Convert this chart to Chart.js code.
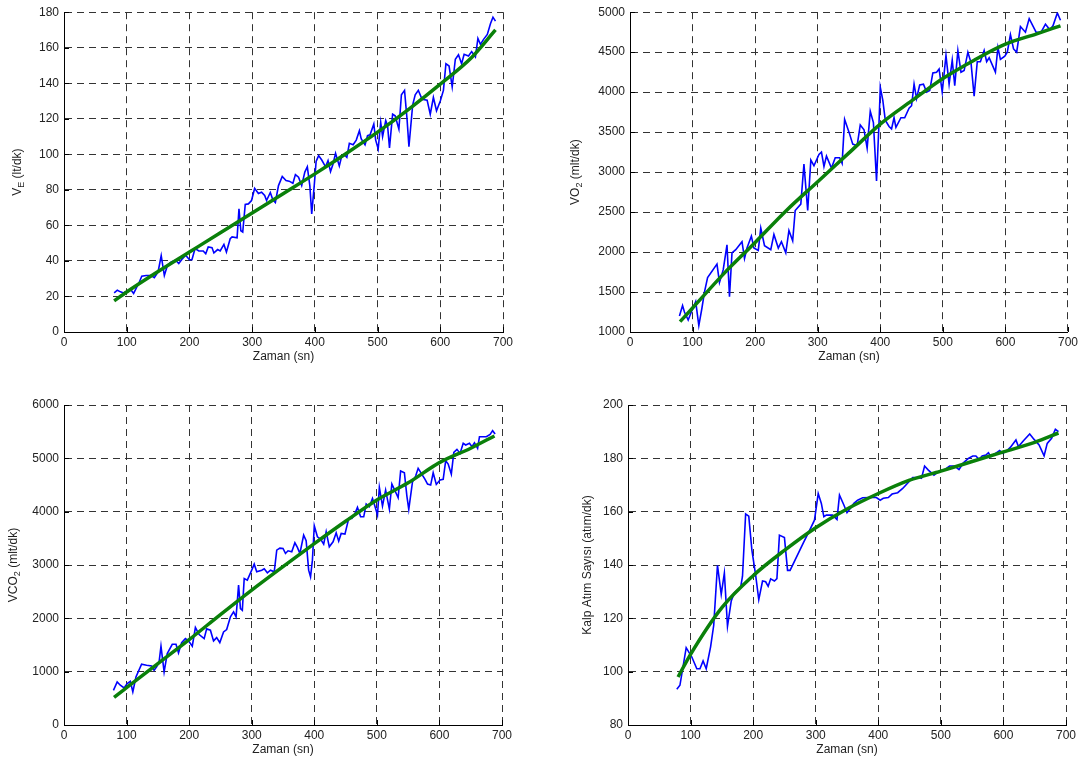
<!DOCTYPE html>
<html>
<head>
<meta charset="utf-8">
<script src="https://cdn.jsdelivr.net/npm/chart.js@4/dist/chart.umd.min.js"></script>
<style>
  body { margin: 0; background: #fff; width: 1081px; height: 763px; position: relative; overflow: hidden; }
  canvas { position: absolute; }
</style>
</head>
<body>
<canvas id="ve"></canvas>
<canvas id="vo2"></canvas>
<canvas id="vco2"></canvas>
<canvas id="nabiz"></canvas>
<script>
// --- veriler (grafikten okunan yaklasik degerler) ---
const veZaman = [80,85,90,95,100,106,111,115,120,124,131,139,144,150,155,160,165,171,178,183,189,194,200,204,209,215,222,226,230,236,239,245,249,255,259,265,268,276,279,282,285,289,294,299,304,310,315,320,323,329,333,337,342,348,354,359,365,369,374,379,384,388,392,395,399,402,406,411,417,421,425,429,433,439,443,447,451,455,461,466,471,474,480,484,488,494,497,501,505,508,513,516,519,524,528,534,538,543,547,550,556,560,565,571,579,584,589,594,600,605,609,614,619,624,629,634,638,645,650,656,660,664,669,675,680,684,688];
const veDeger = [22,23.5,22.6,22,23,24,21.7,24.5,28,31.4,31.8,31.8,30.6,33.8,43,31.8,37.6,39.4,40.4,38.5,41.3,43.2,40.7,40.7,47,45.6,45.6,44,47.9,47.5,44.5,46.4,45.6,49.3,45,52.5,53.5,53,69.3,57,56.3,71.8,72.1,74,80.9,78,78.7,76.8,74,78.5,74.4,72.9,82.4,87.5,85.2,84.9,83.7,88.6,87.1,82.4,90,93,82.4,66.5,82.4,96,99.3,96.8,93,96.4,90.3,94.6,100.6,93.5,99.3,99.8,98.3,106.2,105.4,108,113.3,108.6,105.4,110.5,111,117,108,103,118,110,119,116,103.6,122.6,121.7,114.2,133.5,136,119.8,104.3,127.9,133.5,136,131,130.5,122.6,132,124.5,130,136,151,149.7,138,153.5,156,151,156.3,155.3,157.8,154.8,165.2,161.9,164.7,167.5,173.5,177.2,175];

const vo2Zaman = [79,84,87,93,98,105,110,115,119,124,139,143,149,155,159,163,169,179,183,187,194,198,205,209,215,225,230,237,242,249,254,260,264,273,278,284,289,294,302,306,310,314,322,328,335,339,343,350,356,363,368,374,379,384,389,394,398,400,404,408,414,418,422,425,433,439,446,450,454,458,463,469,474,479,484,490,494,499,505,510,515,519,524,529,534,540,545,550,555,560,566,570,574,584,588,592,599,603,608,613,618,624,632,638,649,657,664,671,676,683,688];
const vo2Deger = [1200,1330,1250,1150,1250,1380,1080,1300,1500,1680,1850,1620,1780,2090,1440,1990,2030,2130,1920,2050,2200,2050,2020,2300,2080,2030,2220,2050,2130,1990,2270,2140,2520,2600,3100,2520,3150,3080,3220,3250,3070,3200,3050,3180,3180,3110,3660,3500,3350,3330,3590,3530,3300,3760,3620,2890,3620,4060,3900,3650,3570,3540,3680,3560,3680,3680,3800,3830,4100,3920,4090,4100,4000,4020,4240,4250,4290,4000,4460,4100,4400,4080,4520,4250,4270,4500,4370,3950,4380,4380,4520,4380,4430,4250,4560,4410,4450,4500,4720,4540,4500,4820,4750,4920,4750,4750,4850,4780,4830,4990,4900];

const vco2Zaman = [79,85,90,96,101,106,110,115,124,132,140,144,148,152,155,160,165,173,179,183,188,194,199,205,210,216,224,228,234,239,244,249,255,260,266,271,275,279,282,285,288,293,300,304,308,316,320,325,330,336,340,345,350,354,358,364,369,373,377,383,387,391,394,397,400,405,410,415,419,424,430,435,439,443,449,455,460,464,469,474,479,483,488,493,498,501,504,509,514,520,524,529,534,538,544,548,551,557,562,566,571,577,581,586,590,595,601,606,610,614,619,623,628,633,638,642,648,652,656,661,664,670,675,681,685,689];
const vco2Deger = [650,807,745,695,776,820,620,900,1139,1120,1107,1026,1089,1183,1477,995,1339,1514,1514,1352,1545,1620,1577,1477,1827,1696,1620,1802,1777,1577,1639,1545,1746,1789,2027,2121,2027,2622,2184,2152,2747,2716,2903,3016,2872,2903,2928,2853,2903,2872,3279,3316,3310,3216,3266,3247,3416,3329,3216,3560,3454,2903,2778,3091,3735,3529,3485,3391,3623,3341,3435,3604,3448,3591,3579,3873,3873,3936,4080,3904,3904,4142,4092,4249,4061,3936,4455,4105,4405,4048,4518,4392,4261,4762,4730,4292,4042,4561,4668,4812,4718,4605,4518,4499,4730,4511,4593,4605,4955,4893,4705,5112,5168,5093,5281,5250,5281,5218,5293,5187,5406,5406,5406,5450,5519,5456];

const nabizZaman = [78,83,93,102,110,115,120,125,132,137,143,149,154,159,165,170,176,180,183,188,193,198,204,209,215,220,224,228,234,238,242,250,255,259,281,289,298,304,309,313,317,327,334,338,345,350,356,361,367,375,386,397,403,408,416,422,431,439,449,455,465,469,474,480,489,497,505,514,522,529,536,544,551,556,561,566,572,576,580,588,594,599,605,611,620,624,632,642,649,657,665,670,677,683,688];
const nabizDeger = [93.4,94.9,109,105.5,101.1,101.1,104,101.1,109.3,117.4,139.9,129,137,117,126.5,129.6,130.8,131.6,135.8,159.1,158.3,145.6,136.2,127,134,133.7,132,134.8,134,134.9,151.2,150.3,138,138,148.7,152.4,156.8,166.8,163.1,158.1,158.7,158.7,157.1,166.2,162.5,159.6,161.5,163.1,164.3,165.2,165.3,165.3,164.3,165,165.3,166.6,167.1,168.7,171.2,172.8,172.8,172.5,177.1,175.6,173.7,175.2,175.6,177.1,177.1,175.8,178.3,180,180.9,180.9,179.6,180.9,181.2,182.1,180.6,181.9,182.9,181.9,182.7,184.1,186.9,184.4,186.6,189.1,187.1,185,180.9,185.6,187.5,190.9,190];

// egri uydurma (yesil) degerleri
const fitZaman = [80,100,150,200,250,300,350,400,450,500,550,600,650,688];
const veFit    = [17.5,22.5,34,45,56,67,78,89,100.5,112.5,125.5,139.5,154.5,170];
const vo2Fit   = [1130,1300,1730,2120,2520,2880,3240,3600,3890,4170,4400,4600,4730,4830];
const vco2Fit  = [520,700,1150,1600,2070,2530,2970,3400,3820,4220,4540,4920,5190,5420];
const nabizFit = [98,106.5,124,136,145.5,154,161,166.8,171.8,175.2,178.8,182.4,186,189.5];

const FONT = '"Liberation Sans", Arial, sans-serif';
Chart.defaults.font.family = FONT;
Chart.defaults.font.size = 12;
Chart.defaults.color = '#222';

const eksenPlugin = {
  id: 'eksen',
  afterDraw(chart, args, opts) {
    const ctx = chart.ctx, a = chart.chartArea;
    const xs = chart.scales.x, ys = chart.scales.y;
    ctx.save();
    // iceri bakan tik cizgileri
    ctx.strokeStyle = '#000';
    ctx.lineWidth = 1;
    ctx.beginPath();
    xs.ticks.forEach(t => {
      const p = Math.round(xs.getPixelForValue(t.value)) + 0.5;
      ctx.moveTo(p, a.bottom); ctx.lineTo(p, a.bottom - 5);
    });
    ys.ticks.forEach(t => {
      const p = Math.round(ys.getPixelForValue(t.value)) + 0.5;
      ctx.moveTo(a.left, p); ctx.lineTo(a.left + 5, p);
    });
    ctx.stroke();

    // x basligi
    ctx.fillStyle = '#222';
    ctx.font = '12px ' + FONT;
    ctx.textAlign = 'center';
    ctx.textBaseline = 'middle';
    ctx.fillText(opts.xBaslik, (a.left + a.right) / 2, a.bottom + 25);

    // y basligi (alt indisli)
    ctx.translate(a.left - opts.yOfset, (a.top + a.bottom) / 2);
    ctx.rotate(-Math.PI / 2);
    const fontOf = p => (p.alt ? '9px ' : '12px ') + FONT;
    let toplam = 0;
    opts.yBaslik.forEach(p => { ctx.font = fontOf(p); toplam += ctx.measureText(p.t).width; });
    let x = -toplam / 2;
    ctx.textAlign = 'left';
    opts.yBaslik.forEach(p => {
      ctx.font = fontOf(p);
      ctx.fillText(p.t, x, p.alt ? 4 : 0);
      x += ctx.measureText(p.t).width;
    });
    ctx.restore();
  }
};

function grafik(id, kutu, alan, zaman, deger, fit, yMin, yMax, yAdim, yBaslik, yOfset) {
  const cv = document.getElementById(id);
  cv.width = kutu.w; cv.height = kutu.h;
  cv.style.left = kutu.x + 'px'; cv.style.top = kutu.y + 'px';
  const grid = { color: '#333', lineWidth: 1, drawTicks: false };
  const border = { display: true, color: '#000', width: 1, dash: [7, 5] };
  return new Chart(cv, {
    type: 'line',
    data: {
      datasets: [{
        data: fitZaman.map((x, i) => ({ x, y: fit[i] })),
        borderColor: '#0a800a',
        borderWidth: 3.5,
        pointRadius: 0,
        cubicInterpolationMode: 'monotone',
        fill: false
      }, {
        data: zaman.map((x, i) => ({ x, y: deger[i] })),
        borderColor: '#0000ff',
        borderWidth: 1.6,
        pointRadius: 0,
        tension: 0,
        fill: false
      }]
    },
    options: {
      responsive: false,
      animation: false,
      events: [],
      layout: { padding: { top: alan.t - kutu.y, right: kutu.x + kutu.w - alan.r, left: 0, bottom: 0 } },
      plugins: {
        legend: { display: false },
        tooltip: { enabled: false },
        eksen: { xBaslik: 'Zaman (sn)', yBaslik, yOfset }
      },
      scales: {
        x: {
          type: 'linear', min: 0, max: 700,
          ticks: { stepSize: 100, padding: 3, callback: v => String(v) },
          grid, border,
          afterFit: s => { s.height = kutu.y + kutu.h - alan.b; }
        },
        y: {
          type: 'linear', min: yMin, max: yMax,
          ticks: { stepSize: yAdim, padding: 5, callback: v => String(v) },
          grid, border,
          afterFit: s => { s.width = alan.l - kutu.x; }
        }
      }
    },
    plugins: [eksenPlugin]
  });
}

grafik('ve', { x: 0, y: 0, w: 540, h: 380 }, { l: 64, t: 11, r: 503, b: 332 },
  veZaman, veDeger, veFit, 0, 180, 20,
  [{ t: 'V' }, { t: 'E', alt: true }, { t: ' (lt/dk)' }], 46);

grafik('vo2', { x: 540, y: 0, w: 541, h: 380 }, { l: 630, t: 12, r: 1068, b: 332 },
  vo2Zaman, vo2Deger, vo2Fit, 1000, 5000, 500,
  [{ t: 'VO' }, { t: '2', alt: true }, { t: ' (mlt/dk)' }], 54);

grafik('vco2', { x: 0, y: 385, w: 540, h: 378 }, { l: 64, t: 405, r: 502, b: 725 },
  vco2Zaman, vco2Deger, vco2Fit, 0, 6000, 1000,
  [{ t: 'VCO' }, { t: '2', alt: true }, { t: ' (mlt/dk)' }], 50);

grafik('nabiz', { x: 540, y: 385, w: 541, h: 378 }, { l: 628, t: 405, r: 1066, b: 725 },
  nabizZaman, nabizDeger, nabizFit, 80, 200, 20,
  [{ t: 'Kalp Atım Sayısı (atım/dk)' }], 40);
</script>
</body>
</html>
